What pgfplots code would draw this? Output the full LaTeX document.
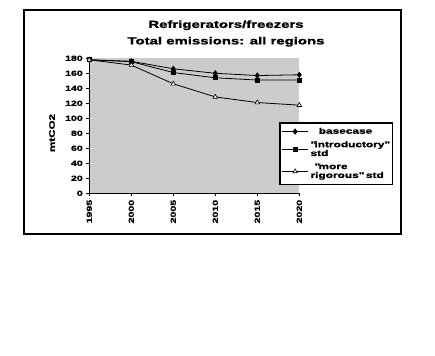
\documentclass[border=0pt]{standalone}
\usepackage{fontspec}
\setmainfont{Liberation Sans}[FakeStretch=1.45, FakeBold=1.5]
\usepackage{pgfplots}
\pgfplotsset{compat=1.18}
\begin{document}
\begin{tikzpicture}[x=1pt,y=1pt]
\path[use as bounding box] (0,0) rectangle (435,355);
\draw[line width=2pt] (24,121) rectangle (401,345);
\node[align=center, font=\bfseries\fontsize{10.3}{16.5}\selectfont] at (226,321.5) {Refrigerators/freezers\\Total emissions: all regions};
\node[rotate=90, font=\bfseries\fontsize{8}{9}\selectfont] at (52,222) {mtCO2};
\begin{axis}[
  at={(89.3pt,161.7pt)}, anchor=south west,
  scale only axis, width=210pt, height=135pt,
  xmin=1995, xmax=2020, ymin=0, ymax=180,
  xtick={1995,2000,2005,2010,2015,2020},
  ytick={0,20,...,180},
  axis lines=left, axis line style={-, line width=0.8pt},
  tick align=outside, major tick length=3pt,
  tick style={black, line width=0.8pt},
  axis background/.style={fill=black!20},
  /pgf/number format/1000 sep={},
  /pgf/number format/assume math mode=true,
  ticklabel style={font=\bfseries\fontsize{7.3}{8}\selectfont},
  xticklabel style={rotate=90, anchor=east},
  clip=false,
  legend image code/.code={\draw[mark repeat=2,mark phase=2,#1] plot coordinates {(0pt,0pt) (13pt,0pt) (26pt,0pt)};},
  legend style={at={(0.903,0.528)}, anchor=north west, draw=black, line width=1.6pt,
    font=\bfseries\fontsize{8.2}{8.8}\selectfont, cells={align=left}, row sep=2pt,
    inner xsep=2pt, inner ysep=3pt},
  legend cell align=left,
]
\addplot[black, line width=0.8pt, mark=diamond*, mark size=2.6pt, mark options={solid, fill=black}] coordinates {
(1995,178) (2000,176) (2005,166) (2010,160) (2015,157) (2020,158)};
\addlegendentry{\quad basecase}
\addplot[black, line width=0.8pt, mark=square*, mark size=2pt, mark options={fill=black}] coordinates {
(1995,178) (2000,175.5) (2005,161) (2010,154) (2015,151) (2020,151)};
\addlegendentry{\textquotedbl introductory\textquotedbl\\std}
\addplot[black, line width=0.8pt, mark=triangle*, mark size=2.6pt, mark options={fill=white, line width=0.6pt}] coordinates {
(1995,178) (2000,171) (2005,146) (2010,128.5) (2015,121) (2020,117.5)};
\addlegendentry{\enspace\textquotedbl more\\rigorous\textquotedbl{} std}
\end{axis}
\end{tikzpicture}
\end{document}
